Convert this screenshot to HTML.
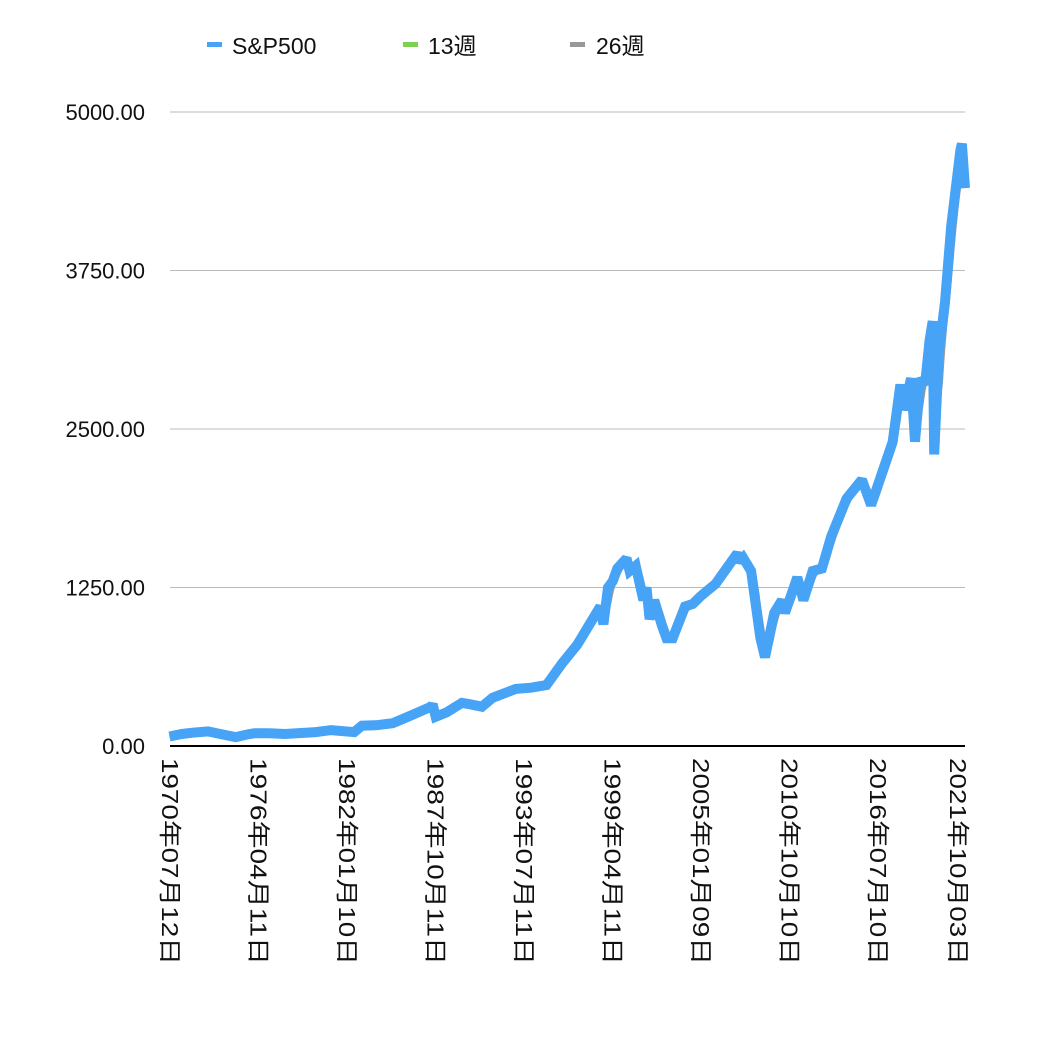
<!DOCTYPE html>
<html><head><meta charset="utf-8"><style>
html,body{margin:0;padding:0;background:#fff;}
svg{display:block;font-family:"Liberation Sans","Noto Sans CJK JP",sans-serif;}
</style></head><body>
<svg id="chart" width="1054" height="1042" viewBox="0 0 1054 1042" xmlns="http://www.w3.org/2000/svg">
<g id="legend">
  <g><rect x="207" y="42" width="15" height="5" fill="#46a3f5"/><text x="232" y="54" font-size="23" fill="#111">S&amp;P500</text></g>
  <g><rect x="403" y="42" width="15" height="5" fill="#7ed24f"/><text x="428" y="54" font-size="23" fill="#111">13週</text></g>
  <g><rect x="570" y="42" width="15" height="5" fill="#999"/><text x="596" y="54" font-size="23" fill="#111">26週</text></g>
</g>
<g id="grid"></g>
<g id="yticks"></g>
<g id="xticks"></g>
<g id="series"></g>
<line x1="170" y1="746" x2="965" y2="746" stroke="#000" stroke-width="2"/>
</svg>
<script>
const yTicks = [0, 1250, 2500, 3750, 5000];
const yTickLabels = ["0.00", "1250.00", "2500.00", "3750.00", "5000.00"];
const xTickYears = [1970.53, 1976.27, 1982.03, 1987.78, 1993.53, 1999.28, 2005.03, 2010.78, 2016.53, 2021.75];
const xTickLabels = ["1970年07月12日","1976年04月11日","1982年01月10日","1987年10月11日","1993年07月11日","1999年04月11日","2005年01月09日","2010年10月10日","2016年07月10日","2021年10月03日"];
const dates = [1970.5,1971.3,1972,1973,1973.8,1974.8,1975.5,1976,1977,1978,1980,1981,1982.5,1983,1984,1985,1986,1987.5,1987.6,1987.8,1988.5,1989.5,1990,1990.8,1991.5,1993,1994,1995,1996,1997,1997.5,1998.5,1998.7,1999,1999.3,1999.6,2000.2,2000.4,2000.8,2001.3,2001.5,2001.7,2002,2002.5,2002.8,2003.2,2004,2004.5,2005,2006,2007.4,2007.6,2007.8,2008.3,2008.9,2009.2,2009.8,2010.3,2010.5,2011.3,2011.7,2012.3,2012.9,2013.5,2014,2014.5,2015.5,2016.1,2016.8,2017.5,2018.0,2018.2,2018.7,2018.95,2019.3,2019.6,2019.9,2020.1,2020.2,2020.5,2020.9,2021.3,2021.6,2021.9,2022.0,2022.2];
const prices = [75,95,105,115,95,70,90,100,100,95,110,125,110,160,165,180,230,310,330,230,265,340,330,310,380,450,460,480,650,800,900,1100,960,1250,1300,1400,1480,1380,1420,1150,1250,1000,1150,950,850,850,1100,1120,1180,1280,1520,1450,1480,1380,850,700,1050,1150,1050,1330,1150,1380,1400,1650,1800,1950,2100,1900,2150,2400,2850,2650,2900,2400,2900,2850,3200,3350,2300,3100,3500,4100,4400,4700,4750,4400];
const NS="http://www.w3.org/2000/svg";
const x0=170, x1=965, d0=1970.53, d1=2022.2;
const X=d=>x0+(d-d0)/(d1-d0)*(x1-x0);
const Y=v=>746-v/5000*634;
const grid=document.getElementById('grid'), yt=document.getElementById('yticks'), xt=document.getElementById('xticks'), ser=document.getElementById('series');
yTicks.forEach((v,i)=>{
  if(v>0){const l=document.createElementNS(NS,'line');
  
  
  l.setAttribute('x1',x0);l.setAttribute('x2',x1);l.setAttribute('y1',Y(v));l.setAttribute('y2',Y(v));l.setAttribute('stroke','#bbb');l.setAttribute('stroke-width','1');grid.appendChild(l);}
  const t=document.createElementNS(NS,'text');
  
  
  t.setAttribute('x',145);t.setAttribute('y',Y(v)+8);t.setAttribute('text-anchor','end');t.setAttribute('font-size','22');t.setAttribute('fill','#111');t.textContent=yTickLabels[i];yt.appendChild(t);
});
xTickYears.forEach((d,i)=>{
  const t=document.createElementNS(NS,'text');
  
  
  const x=X(d)-8;
  t.setAttribute('transform','translate('+x+',758) rotate(90)');
  t.setAttribute('font-size','23');t.setAttribute('fill','#111');
  t.setAttribute('textLength','207');t.setAttribute('lengthAdjust','spacingAndGlyphs');
  t.textContent=xTickLabels[i];xt.appendChild(t);
});
function interp(d){for(let i=1;i<dates.length;i++){if(d<=dates[i]){const f=(d-dates[i-1])/(dates[i]-dates[i-1]);return prices[i-1]+f*(prices[i]-prices[i-1]);}}return prices[prices.length-1];}
const wk=[];for(let d=dates[0];d<=dates[dates.length-1];d+=1/52)wk.push([d,interp(d)]);
function ma(n){return wk.map((p,i)=>{let s=0,c=0;for(let j=Math.max(0,i-n+1);j<=i;j++){s+=wk[j][1];c++;}return [p[0],s/c];});}
function path(pts,color,w,name){const p=document.createElementNS(NS,'path');
  
  
  p.setAttribute('d',pts.map((q,i)=>(i?'L':'M')+X(q[0]).toFixed(1)+','+Y(q[1]).toFixed(1)).join(''));
  p.setAttribute('fill','none');p.setAttribute('stroke',color);p.setAttribute('stroke-width',w);p.setAttribute('stroke-linejoin','miter');p.setAttribute('stroke-miterlimit','2');ser.appendChild(p);}
path(ma(26),'#999',3,'line-26-week');
path(ma(13),'#7ed24f',3,'line-13-week');
path(dates.map((d,i)=>[d,prices[i]]),'#46a3f5',10,'line-sp500');
</script>
</body></html>
